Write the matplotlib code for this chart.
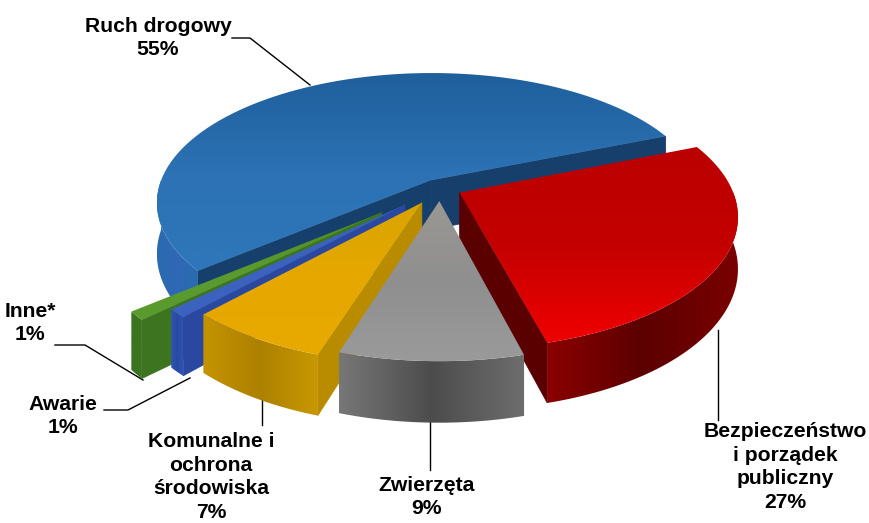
import numpy as np
import matplotlib
matplotlib.use('Agg')
import matplotlib.pyplot as plt
from matplotlib.colors import LinearSegmentedColormap
from matplotlib.patches import Polygon

# data
names = ['Ruch drogowy', 'Bezpieczeństwo\ni porządek\npubliczny', 'Zwierzęta',
         'Komunalne i\nochrona\nśrodowiska', 'Awarie', 'Inne*']
percents = [55, 27, 9, 7, 1, 1]

# look of the 3d pie
explode = [0.07, 0.08, 0.10, 0.13, 0.18, 0.28]
top_cols = [['#1f5f9c', '#2c72b4', '#2f77ba'], ['#bb0000', '#c40000', '#f00000'],
            ['#9a9894', '#8f8f8f', '#9a9a9a'], ['#d9a400', '#e6a800', '#e8aa00'],
            ['#3a62b8', '#3c62c0', '#3c62c0'], ['#4c8a26', '#5a9a2e', '#5a9a2e']]
side_cols = [['#2a6cb0', '#3068b6', '#2a6cb0'], ['#8a0000', '#5c0000', '#7a0000'],
             ['#777777', '#4c4c4c', '#6e6e6e'], ['#c49400', '#ad8000', '#c89800'],
             ['#2f55b8', '#2a48a0', '#2f55b8'], ['#3c7420', '#3c7420', '#3c7420']]
edge_cols = ['#163f6c', '#5a0000', '#6a6a6a', '#b98c00', '#2a48a0', '#3c7420']

cx, cy = 440, 188
rx, ry, k = 272, 128, 0.17
depth = 50
start = 22.0


def project(X, Y, z=0.0):
    s = 1.0 / (1.0 + k * Y)
    return cx + rx * X * s, cy - ry * Y * s + z * s


def gradient_fill(ax, pts, cols, vertical, zorder):
    pts = np.array(pts)
    x0, y0 = pts.min(axis=0)
    x1, y1 = pts.max(axis=0)
    cmap = LinearSegmentedColormap.from_list('g', cols)
    g = np.linspace(0, 1, 128)
    g = g[:, None] if vertical else g[None, :]
    im = ax.imshow(g, cmap=cmap, extent=[x0, x1, y1, y0], aspect='auto', zorder=zorder,
                   origin='upper', interpolation='bilinear')
    clip = Polygon(pts, closed=True, transform=ax.transData)
    im.set_clip_path(clip)


fig = plt.figure(figsize=(8.69, 5.23), dpi=100)
ax = fig.add_axes([0, 0, 1, 1])

# angles come from the shares, clockwise after the blue slice
shares = np.array(percents) / sum(percents) * 360
ends = {0: (start, start + shares[0])}
a = start
for i in range(1, len(shares)):
    ends[i] = (a - shares[i], a)
    a -= shares[i]

order = [0, 1, 5, 4, 3, 2]
z = 1
for i in order:
    t0, t1 = ends[i]
    mid = np.radians((t0 + t1) / 2)
    ox, oy = explode[i] * np.cos(mid), explode[i] * np.sin(mid)
    ts = np.radians(np.linspace(t0, t1, 90))
    rimX, rimY = ox + np.cos(ts), oy + np.sin(ts)

    # radial walls
    for tt in (t0, t1):
        ex, ey = ox + np.cos(np.radians(tt)), oy + np.sin(np.radians(tt))
        quad = [project(ox, oy), project(ex, ey), project(ex, ey, depth), project(ox, oy, depth)]
        # wall facing the viewer: t0 edge has the slice on its ccw side
        facing = (np.cos(np.radians(tt)) * (1 if tt == t0 else -1)) > 0
        if facing or i == 0:
            ax.add_patch(Polygon(quad, closed=True, fc=edge_cols[i], ec=edge_cols[i], lw=0.5, zorder=z))
            z += 1

    # near part of the outer wall
    near = np.sin(ts) < 0.02
    if near.any():
        up = [project(a_, b_) for a_, b_ in zip(rimX[near], rimY[near])]
        dn = [project(a_, b_, depth) for a_, b_ in zip(rimX[near], rimY[near])]
        gradient_fill(ax, up + dn[::-1], side_cols[i], False, z)
        z += 1

    # top face
    top = [project(ox, oy)] + [project(a_, b_) for a_, b_ in zip(rimX, rimY)]
    gradient_fill(ax, top, top_cols[i], True, z)
    z += 1

# labels and leader lines
text_pos = [(158, 38), (785, 467), (427, 497), (211, 477), (63, 416), (30, 323)]
lines = [[(232, 38), (250, 38), (310, 85)],
         [(718, 330), (718, 420)],
         [(430, 420), (430, 470)],
         [(262, 400), (262, 425)],
         [(190, 378), (128, 410), (104, 410)],
         [(143, 380), (85, 345), (55, 345)]]
for n, p, tp, ln in zip(names, percents, text_pos, lines):
    ax.text(tp[0], tp[1], f'{n}\n{p}%', ha='center', va='center', fontsize=15.2,
            fontweight='bold', family='Liberation Sans', color='black', linespacing=1.3, zorder=100)
    ln = np.array(ln)
    ax.plot(ln[:, 0], ln[:, 1], color='black', lw=1.0, zorder=0)

ax.set_xlim(0, 869)
ax.set_ylim(523, 0)
ax.axis('off')
fig.savefig('out.png', dpi=100)
